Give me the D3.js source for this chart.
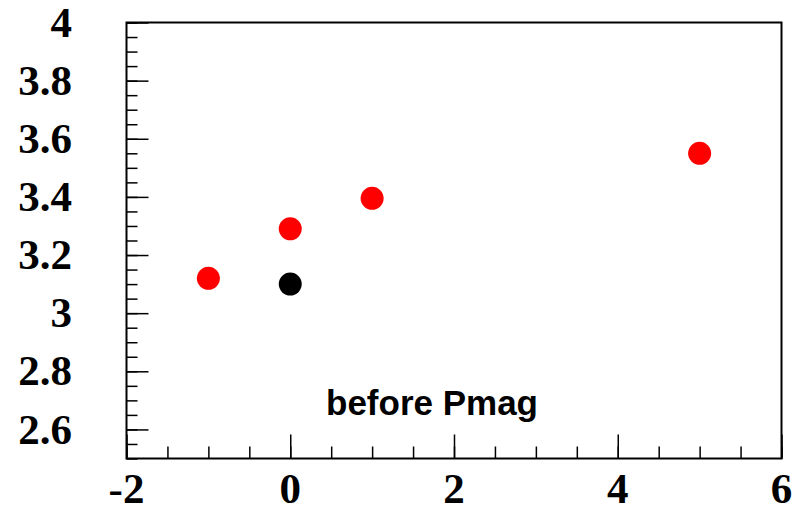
<!DOCTYPE html>
<html>
<head>
<meta charset="utf-8">
<script src="https://cdn.jsdelivr.net/npm/d3@7"></script>
<style>
  html, body { margin: 0; padding: 0; background: #fff; }
  svg { display: block; }
</style>
</head>
<body>
<svg id="chart" width="794" height="513"></svg>
<script>
// Data
const redX = [-1, 0, 1, 5];
const redY = [3.12, 3.29, 3.395, 3.55];
const blackX = [0];
const blackY = [3.10];
const xTickValues = [-2, 0, 2, 4, 6];
const xTickLabels = ["-2", "0", "2", "4", "6"];
const yTickValues = [2.6, 2.8, 3.0, 3.2, 3.4, 3.6, 3.8, 4.0];
const yTickLabels = ["2.6", "2.8", "3", "3.2", "3.4", "3.6", "3.8", "4"];
const annotation = "before Pmag";

const svg = d3.select("#chart");
const L = 126.5, R = 781.5, T = 22.5, B = 458.5;

const x = d3.scaleLinear().domain([-2, 6]).range([L, R]);
const y = d3.scaleLinear().domain([2.5, 4.0]).range([B, T]);

svg.append("rect").attr("width", 794).attr("height", 513).attr("fill", "#fff");

// minor ticks
const xMinor = d3.range(-2, 6.001, 0.5);
const yMinor = d3.range(2.5, 4.0001, 0.05);

const xAxis = d3.axisTop(x).tickValues(xMinor)
  .tickSize(12).tickFormat("");
svg.append("g").attr("transform", `translate(0,${B})`).call(xAxis)
  .call(g => g.select(".domain").remove())
  .selectAll("line").attr("stroke", "#000").attr("stroke-width", 1.5);

const xAxisMajor = d3.axisTop(x).tickValues(xTickValues).tickSize(24).tickFormat("");
svg.append("g").attr("transform", `translate(0,${B})`).call(xAxisMajor)
  .call(g => g.select(".domain").remove())
  .selectAll("line").attr("stroke", "#000").attr("stroke-width", 1.5);

const yAxis = d3.axisRight(y).tickValues(yMinor).tickSize(11).tickFormat("");
svg.append("g").attr("transform", `translate(${L},0)`).call(yAxis)
  .call(g => g.select(".domain").remove())
  .selectAll("line").attr("stroke", "#000").attr("stroke-width", 1.5);

const yAxisMajor = d3.axisRight(y).tickValues(yTickValues).tickSize(22).tickFormat("");
svg.append("g").attr("transform", `translate(${L},0)`).call(yAxisMajor)
  .call(g => g.select(".domain").remove())
  .selectAll("line").attr("stroke", "#000").attr("stroke-width", 1.5);

// tick labels
const labelFont = "'Liberation Serif', 'Times New Roman', serif";
svg.append("g").selectAll("text").data(xTickValues).join("text")
  .attr("x", d => x(d)).attr("y", 503)
  .attr("text-anchor", "middle")
  .attr("font-family", labelFont).attr("font-weight", "bold").attr("font-size", 43)
  .text((d, i) => xTickLabels[i]);

svg.append("g").selectAll("text").data(yTickValues).join("text")
  .attr("x", 72).attr("y", d => y(d))
  .attr("dy", "0.33em")
  .attr("text-anchor", "end")
  .attr("font-family", labelFont).attr("font-weight", "bold").attr("font-size", 43)
  .text((d, i) => yTickLabels[i]);

// frame
svg.append("rect").attr("x", L).attr("y", T).attr("width", R - L).attr("height", B - T)
  .attr("fill", "none").attr("stroke", "#000").attr("stroke-width", 2);

// points
svg.append("g").selectAll("circle").data(redX.map((d, i) => [d, redY[i]])).join("circle")
  .attr("cx", d => x(d[0])).attr("cy", d => y(d[1])).attr("r", 11.5).attr("fill", "#ff0000");
svg.append("g").selectAll("circle").data(blackX.map((d, i) => [d, blackY[i]])).join("circle")
  .attr("cx", d => x(d[0])).attr("cy", d => y(d[1])).attr("r", 11.5).attr("fill", "#000");

// annotation
svg.append("text").attr("x", 326).attr("y", 415)
  .attr("font-family", "'Liberation Sans', Arial, Helvetica, sans-serif")
  .attr("font-weight", "bold").attr("font-size", 35)
  .text(annotation);
</script>
</body>
</html>
